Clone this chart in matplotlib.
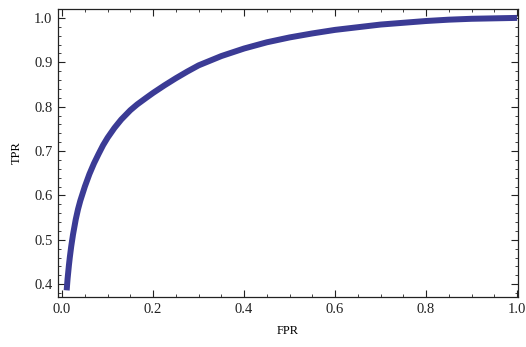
import matplotlib
matplotlib.use("Agg")
import matplotlib.pyplot as plt
from matplotlib.ticker import MultipleLocator

# ROC curve samples
fpr = [0.010, 0.012, 0.015, 0.017, 0.020, 0.024, 0.030, 0.035, 0.040, 0.050,
       0.060, 0.070, 0.080, 0.090, 0.100, 0.115, 0.130, 0.150, 0.165, 0.185,
       0.200, 0.225, 0.250, 0.275, 0.300, 0.350, 0.400, 0.450, 0.500, 0.550,
       0.600, 0.650, 0.700, 0.750, 0.800, 0.850, 0.900, 0.950, 1.000]
tpr = [0.386, 0.412, 0.443, 0.461, 0.485, 0.512, 0.546, 0.569, 0.588, 0.620,
       0.648, 0.672, 0.693, 0.713, 0.730, 0.752, 0.771, 0.792, 0.805, 0.820,
       0.831, 0.848, 0.864, 0.879, 0.893, 0.914, 0.931, 0.945, 0.956, 0.965,
       0.973, 0.979, 0.985, 0.989, 0.993, 0.996, 0.998, 0.999, 1.000]

x_ticks = [0.0, 0.2, 0.4, 0.6, 0.8, 1.0]
y_ticks = [0.4, 0.5, 0.6, 0.7, 0.8, 0.9, 1.0]

plt.rcParams['font.family'] = ['Liberation Serif', 'DejaVu Serif']

fig = plt.figure(figsize=(5.26, 3.47), dpi=100)
ax = fig.add_axes([0.1103, 0.1441, 0.8745, 0.8299])

ax.plot(fpr, tpr, color='#3b3b95', linewidth=4.3,
        solid_capstyle='butt', solid_joinstyle='round')

ax.set_xlim(-0.009, 1.002)
ax.set_ylim(0.371, 1.02)
ax.set_xticks(x_ticks)
ax.set_yticks(y_ticks)
ax.set_xticklabels([f"{v:.1f}" for v in x_ticks])
ax.set_yticklabels([f"{v:.1f}" for v in y_ticks])
ax.xaxis.set_minor_locator(MultipleLocator(0.05))
ax.yaxis.set_minor_locator(MultipleLocator(0.02))

ax.tick_params(which='both', direction='in', top=True, right=True,
               labelsize=10.5, colors='#222222', pad=4)
ax.tick_params(which='major', length=5, width=0.8)
ax.tick_params(which='minor', length=2.5, width=0.6)
for s in ax.spines.values():
    s.set_linewidth(0.9)
    s.set_color('#222222')

ax.set_xlabel('FPR', fontsize=9, labelpad=7)
ax.set_ylabel('TPR', fontsize=9, labelpad=8)

fig.savefig('out.png', dpi=100)
